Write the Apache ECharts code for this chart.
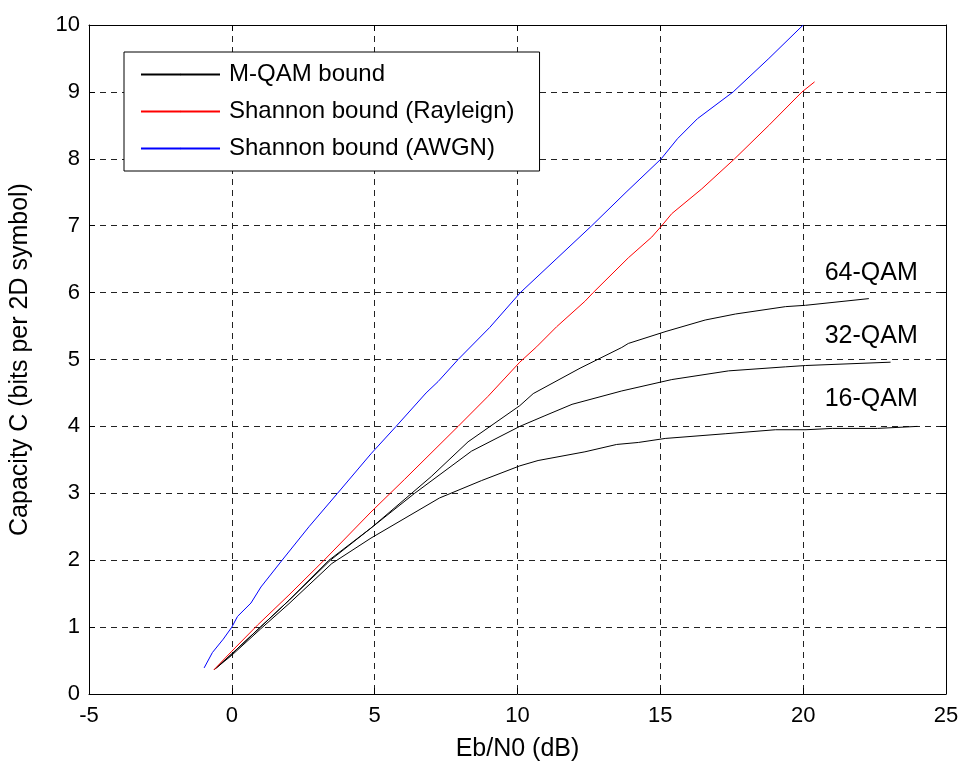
<!DOCTYPE html>
<html>
<head>
<meta charset="utf-8">
<script src="https://cdn.jsdelivr.net/npm/echarts@6/dist/echarts.min.js"></script>
<style>
  html, body { margin: 0; padding: 0; background: #fff; }
  #chart { width: 962px; height: 767px; }
</style>
</head>
<body>
<div id="chart"></div>
<script>
// values, [Eb/N0 (dB), capacity]
const awgn = [[-0.97, 0.39], [-0.68, 0.62], [-0.3, 0.82], [0, 1.0], [0.2, 1.16], [0.67, 1.36], [1.02, 1.6],
  [1.76, 2.0], [2.7, 2.5], [3.7, 3.0], [4.87, 3.59], [5.75, 4.0], [6.8, 4.5], [7.22, 4.67], [7.92, 5.0],
  [9.03, 5.48], [10.1, 6.0], [11.35, 6.5], [12.6, 7.0], [13.8, 7.5], [15.03, 8.0], [15.6, 8.3],
  [16.3, 8.6], [17.55, 9.0], [18.8, 9.5], [20.0, 10.0]];
const rayleigh = [[-0.63, 0.36], [0, 0.64], [0.9, 1.03], [2.0, 1.48], [3.23, 2.0], [4.87, 2.72], [6.05, 3.21],
  [7.92, 4.0], [8.97, 4.45], [10.08, 4.96], [10.67, 5.19], [11.37, 5.49], [12.36, 5.87], [12.65, 6.0],
  [13.88, 6.52], [14.7, 6.83], [15.05, 7.0], [15.4, 7.18], [16.45, 7.55], [17.6, 8.0], [18.8, 8.5],
  [19.96, 9.0], [20.4, 9.15]];
const qam64 = [[-0.6, 0.37], [0, 0.6], [1, 1.0], [2, 1.4], [3.4, 2.0], [4.87, 2.48], [6.98, 3.25],
  [8.27, 3.77], [10.08, 4.31], [10.55, 4.49], [12.19, 4.87], [13.65, 5.18], [13.88, 5.24], [15.2, 5.42],
  [16.57, 5.59], [17.63, 5.68], [19.38, 5.79], [20.08, 5.81], [22.3, 5.91]];
const qam32 = [[-0.6, 0.37], [0, 0.6], [1, 1.0], [2, 1.4], [3.45, 2.0], [4.87, 2.48], [6.4, 3.0],
  [8.39, 3.63], [10.08, 4.0], [10.96, 4.16], [11.91, 4.33], [13.65, 4.53], [15.4, 4.7], [17.39, 4.83],
  [19.38, 4.89], [20.08, 4.91], [23.06, 4.96]];
const qam16 = [[-0.6, 0.37], [0, 0.58], [1, 0.97], [2, 1.35], [3.5, 1.95], [4.87, 2.33], [7.27, 2.93],
  [8.74, 3.19], [10.08, 3.41], [10.72, 3.49], [12.36, 3.62], [13.47, 3.73], [14.23, 3.76], [15.17, 3.82],
  [17.27, 3.89], [19.03, 3.95], [20.1, 3.95], [21.02, 3.97], [22.6, 3.97], [24.0, 4.0]];
const qamLabels = [['64-QAM', 22.4, 6.28], ['32-QAM', 22.4, 5.34], ['16-QAM', 22.4, 4.4]];
const legendNames = ['M-QAM bound', 'Shannon bound (Rayleign)', 'Shannon bound (AWGN)'];

const font = 'Arial, "Liberation Sans", sans-serif';

const lineSeries = (name, data, color) => ({
    name: name,
    type: 'line',
    data: data,
    symbol: 'none',
    silent: true,
    lineStyle: { color: color, width: 1 },
    itemStyle: { color: color },
    z: 3
});

const frameAxis = {
    axisLine: { show: true, onZero: false, lineStyle: { color: '#000', width: 1 } },
    axisTick: { show: true, inside: true, length: 6, lineStyle: { color: '#000' } },
    axisLabel: { show: false },
    splitLine: { show: false }
};

let option = {
    backgroundColor: '#fff',
    animation: false,
    grid: { left: 89, right: 16, top: 25, bottom: 66, containLabel: false },
    legend: {
        data: legendNames,
        orient: 'vertical',
        left: 124,
        top: 52,
        padding: [10, 25, 10, 16],
        itemGap: 12,
        itemWidth: 79,
        itemHeight: 2,
        backgroundColor: '#fff',
        borderColor: '#000',
        borderWidth: 1,
        borderRadius: 0,
        selectedMode: false,
        textStyle: { fontFamily: font, fontSize: 24, color: '#000', lineHeight: 25, padding: [0, 0, 0, 4] }
    },
    xAxis: [
        {
            type: 'value', min: -5, max: 25, interval: 5,
            name: 'Eb/N0 (dB)', nameLocation: 'middle', nameGap: 43,
            nameTextStyle: { fontFamily: font, fontSize: 25, color: '#000' },
            axisLine: { show: true, onZero: false, lineStyle: { color: '#000', width: 1 } },
            axisTick: { show: true, inside: true, length: 6, lineStyle: { color: '#000' } },
            axisLabel: { fontFamily: font, fontSize: 22, color: '#000', margin: 11 },
            splitLine: { show: true, lineStyle: { color: '#222', type: [6, 5], width: 1 } }
        },
        Object.assign({}, frameAxis, { type: 'value', position: 'top', min: -5, max: 25, interval: 5 })
    ],
    yAxis: [
        {
            type: 'value', min: 0, max: 10, interval: 1,
            name: 'Capacity C (bits per 2D symbol)', nameLocation: 'middle', nameGap: 56,
            nameTextStyle: { fontFamily: font, fontSize: 25, color: '#000' },
            axisLine: { show: true, onZero: false, lineStyle: { color: '#000', width: 1 } },
            axisTick: { show: true, inside: true, length: 6, lineStyle: { color: '#000' } },
            axisLabel: { fontFamily: font, fontSize: 22, color: '#000', margin: 9 },
            splitLine: { show: true, lineStyle: { color: '#222', type: [6, 5], width: 1 } }
        },
        Object.assign({}, frameAxis, { type: 'value', position: 'right', min: 0, max: 10, interval: 1 })
    ],
    series: [
        lineSeries(legendNames[0], qam64, '#000000'),
        lineSeries(legendNames[0], qam32, '#000000'),
        lineSeries(legendNames[0], qam16, '#000000'),
        lineSeries(legendNames[1], rayleigh, '#ff0000'),
        lineSeries(legendNames[2], awgn, '#0000ff'),
        {
            type: 'scatter',
            silent: true,
            symbolSize: 1,
            itemStyle: { color: 'rgba(0,0,0,0)' },
            data: qamLabels.map(d => ({ value: [d[1], d[2]], name: d[0] })),
            label: {
                show: true, position: [0, 0], align: 'center', verticalAlign: 'middle',
                formatter: '{b}', fontFamily: font, fontSize: 25, color: '#000000', opacity: 1
            },
            z: 4
        }
    ]
};

const chartInit = () => {
    let myChart = echarts.init(document.getElementById('chart'), null, { renderer: 'canvas' });
    myChart.setOption(option);
}

chartInit();
</script>
</body>
</html>
